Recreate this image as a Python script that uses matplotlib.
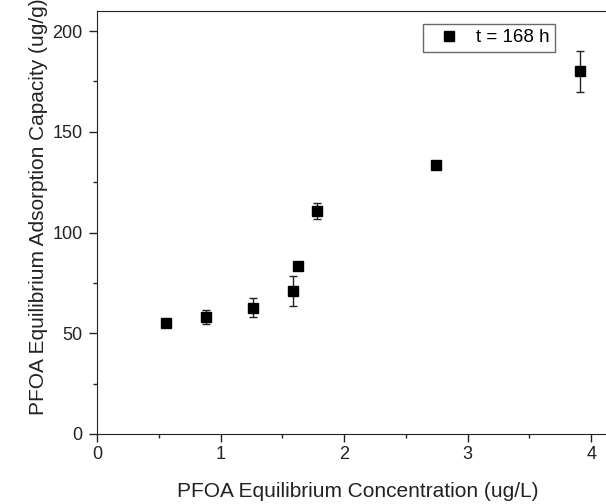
import matplotlib
matplotlib.use("Agg")
import matplotlib.pyplot as plt
from matplotlib.lines import Line2D
from matplotlib.ticker import MultipleLocator

plt.rcParams['font.family'] = ['Liberation Sans', 'DejaVu Sans']

conc = [0.56, 0.88, 1.26, 1.59, 1.63, 1.78, 2.74, 3.91]
capacity = [55.0, 58.0, 62.7, 71.0, 83.5, 110.5, 133.5, 180.0]
capacity_err = [1.0, 3.6, 4.6, 7.4, 1.5, 4.0, 1.0, 10.0]
series_label = 't = 168 h'

fig = plt.figure(figsize=(6.06, 5.04), dpi=100)
# axes run past the right edge of the picture, as in the reference
ax = fig.add_axes([97 / 606, 70 / 504, 556 / 606, 423 / 504])

ax.errorbar(conc, capacity, yerr=capacity_err, fmt='s', color='black',
            ecolor='#222222', elinewidth=1, capsize=3, capthick=1,
            markersize=7.5)

ax.set_xlim(0, 4.5)
ax.set_ylim(0, 210)
ax.xaxis.set_major_locator(MultipleLocator(1))
ax.xaxis.set_minor_locator(MultipleLocator(0.5))
ax.yaxis.set_major_locator(MultipleLocator(50))
ax.yaxis.set_minor_locator(MultipleLocator(25))
ax.tick_params(which='major', direction='out', length=6, width=1, labelsize=13, colors='#222222')
ax.tick_params(which='minor', direction='out', length=3, width=1, colors='#222222')
ax.tick_params(axis='x', which='major', pad=2.5)
ax.tick_params(axis='y', which='major', pad=4.5)
for s in ax.spines.values():
    s.set_color('#222222')

ax.set_xlabel('PFOA Equilibrium Concentration (ug/L)', fontsize=15, color='#222222', va='bottom')
ax.set_ylabel('PFOA Equilibrium Adsorption Capacity (ug/g)', fontsize=15, color='#222222')
ax.xaxis.set_label_coords(0.469, -(501 - 434) / 423)
ax.yaxis.set_label_coords(-0.088, 0.537)

handle = Line2D([], [], marker='s', ls='none', color='black', markersize=6.5)
leg = fig.legend([handle], [series_label], loc='upper left',
                 bbox_to_anchor=(423 / 606, 1 - 24 / 504), borderaxespad=0,
                 fontsize=13.5, frameon=True, fancybox=False, edgecolor='#444444',
                 handlelength=2.21, handletextpad=0.36, borderpad=0.28)
leg.get_frame().set_linewidth(1)

fig.savefig('out.png', dpi=100)
